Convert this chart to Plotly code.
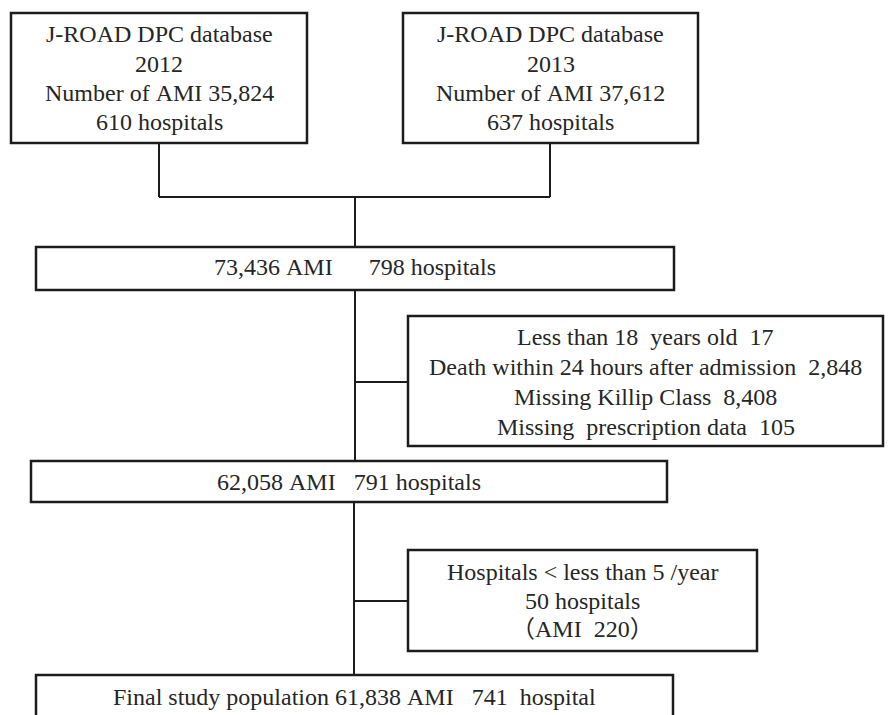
import plotly.graph_objects as go

# ---------------- data (texts of the flow chart) ----------------
source_titles = ["J-ROAD DPC database", "J-ROAD DPC database"]
source_years = ["2012", "2013"]
source_ami = ["35,824", "37,612"]
source_hospitals = ["610", "637"]

merged_ami = "73,436"
merged_hospitals = "798"

exclusion_labels = ["Less than 18  years old", "Death within 24 hours after admission",
                    "Missing Killip Class", "Missing  prescription data"]
exclusion_counts = ["17", "2,848", "8,408", "105"]

after_excl_ami = "62,058"
after_excl_hospitals = "791"

small_hosp_lines = ["Hospitals < less than 5 /year", "50 hospitals", "\uff08AMI  220\uff09"]

final_ami = "61,838"
final_hospitals = "741"

# ---------------- layout (pixel geometry, not data) ----------------
W, H = 893, 715
boxes = {
    "src1": (11, 13, 307, 143),
    "src2": (403, 13, 698, 143),
    "merged": (36, 247, 674, 290),
    "excl": (408, 316, 883, 446),
    "after": (31, 461, 667, 502),
    "small": (408, 550, 757, 651),
    "final": (36, 675, 673, 722),
}
connectors = [
    ((159, 143), (159, 197)),
    ((550, 143), (550, 197)),
    ((159, 197), (550, 197)),
    ((355, 197), (355, 247)),
    ((355, 290), (355, 461)),
    ((355, 382), (408, 382)),
    ((354, 502), (354, 675)),
    ((354, 601), (408, 601)),
]
line_ys = {
    "src1": [34, 64, 93, 122], "src2": [34, 64, 93, 122],
    "merged": [267], "excl": [337, 367, 397, 427],
    "after": [482], "small": [572, 601, 629], "final": [697],
}

NB = "\u00a0"
texts = {
    "src1": [source_titles[0], source_years[0], f"Number of AMI {source_ami[0]}", f"{source_hospitals[0]} hospitals"],
    "src2": [source_titles[1], source_years[1], f"Number of AMI {source_ami[1]}", f"{source_hospitals[1]} hospitals"],
    "merged": [f"{merged_ami} AMI{NB*6}{merged_hospitals} hospitals"],
    "excl": [f"{l}  {c}" for l, c in zip(exclusion_labels, exclusion_counts)],
    "after": [f"{after_excl_ami} AMI   {after_excl_hospitals} hospitals"],
    "small": small_hosp_lines,
    "final": [f"Final study population {final_ami} AMI   {final_hospitals}  hospital"],
}

FONT = "Liberation Serif, 'Times New Roman', 'Noto Sans CJK JP', serif"
LINE_COLOR = "#1c1c1c"
TEXT_COLOR = "#262626"

fig = go.Figure()
fig.add_trace(go.Scatter(x=[0, W], y=[0, H], mode="markers",
                         marker=dict(opacity=0), hoverinfo="skip", showlegend=False))

shapes = []
for key, (x0, y0, x1, y1) in boxes.items():
    shapes.append(dict(type="rect", xref="x", yref="y", x0=x0, y0=y0, x1=x1, y1=y1,
                       line=dict(color=LINE_COLOR, width=2.5), fillcolor="white", layer="below"))
for (xa, ya), (xb, yb) in connectors:
    shapes.append(dict(type="line", xref="x", yref="y", x0=xa, y0=ya, x1=xb, y1=yb,
                       line=dict(color=LINE_COLOR, width=2)))

annotations = []
for key, lines in texts.items():
    x0, y0, x1, y1 = boxes[key]
    for line, ly in zip(lines, line_ys[key]):
        annotations.append(dict(x=(x0 + x1) / 2, y=ly, xref="x", yref="y",
                                text=line.replace(" ", NB),
                                showarrow=False, xanchor="center", yanchor="middle", align="center",
                                font=dict(family=FONT, size=24, color=TEXT_COLOR)))

fig.update_layout(
    width=W, height=H, autosize=False,
    margin=dict(l=0, r=0, t=0, b=0),
    paper_bgcolor="white", plot_bgcolor="white",
    xaxis=dict(range=[0, W], visible=False, fixedrange=True),
    yaxis=dict(range=[H, 0], visible=False, fixedrange=True),
    shapes=shapes, annotations=annotations, showlegend=False,
)

fig.write_html("out.html", config={"displayModeBar": False},
               post_script="document.body.style.margin='0px';document.body.style.overflow='hidden';")
